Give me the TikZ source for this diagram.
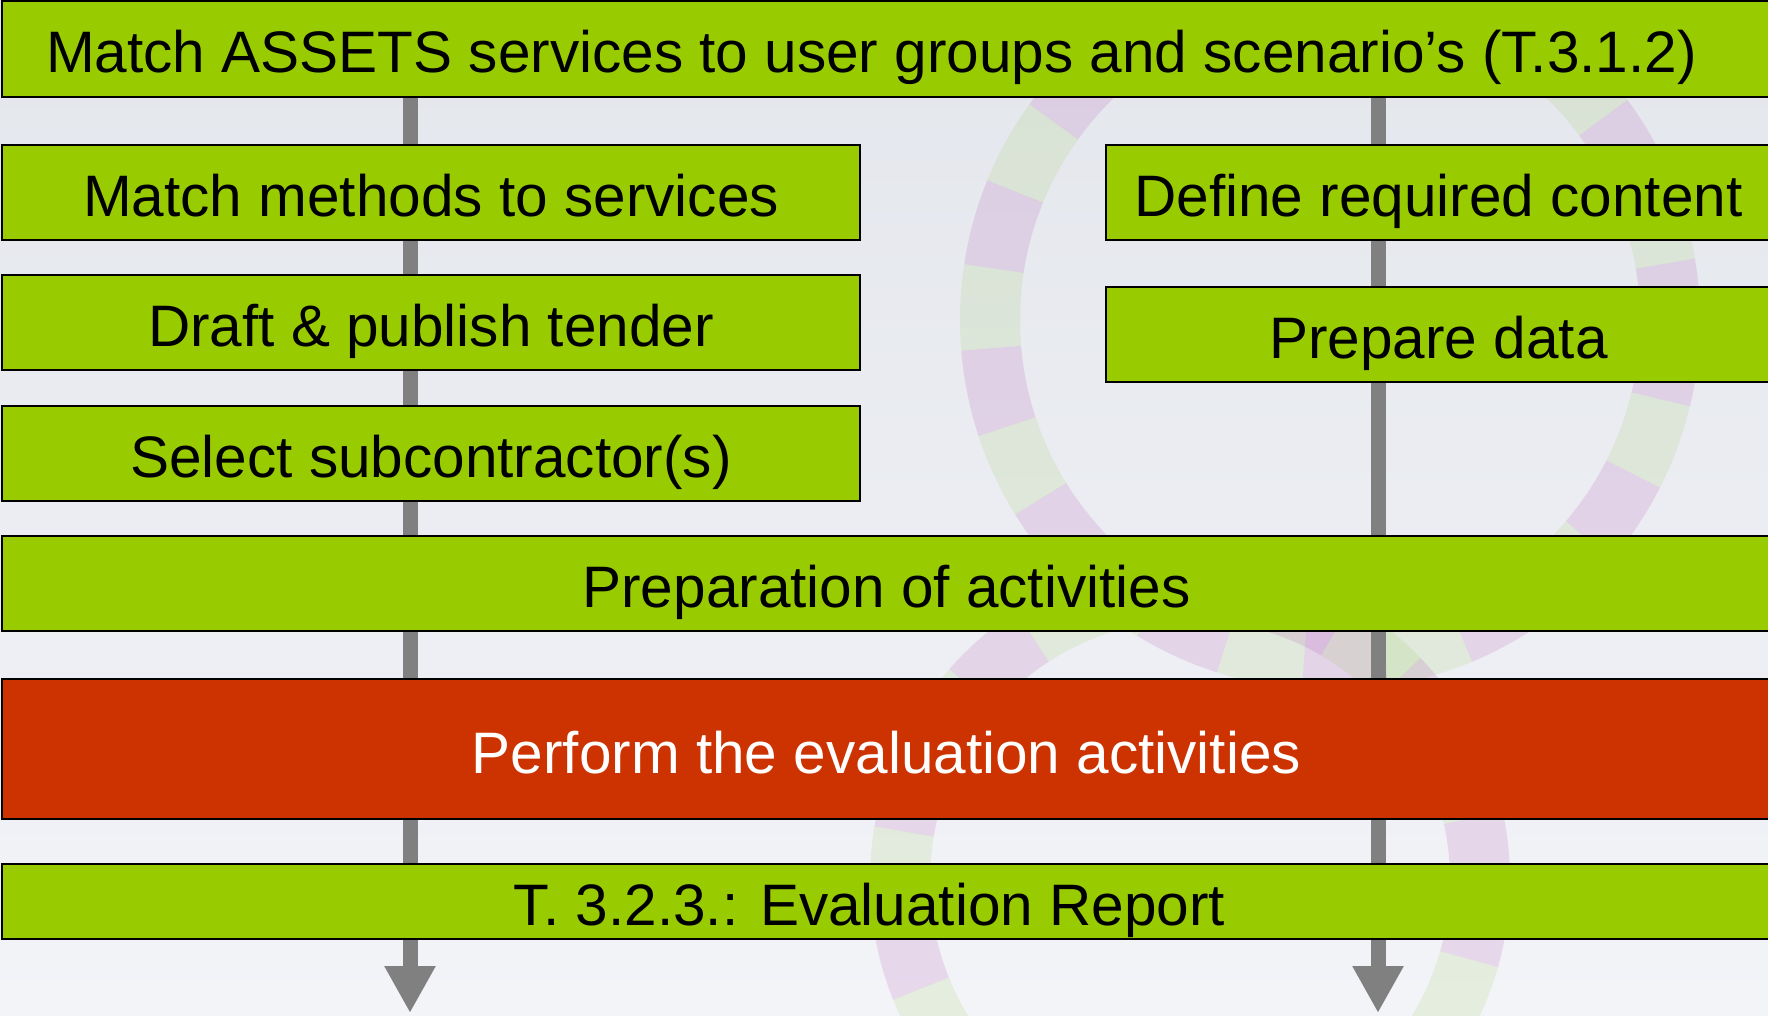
\documentclass[tikz,border=0pt]{standalone}
\usepackage{fontspec}
\setmainfont{Liberation Sans}
\usetikzlibrary{arrows.meta}
\definecolor{boxgreen}{HTML}{99CC00}
\definecolor{boxred}{HTML}{CC3300}
\definecolor{flowgray}{HTML}{808080}
\definecolor{bgtop}{HTML}{E3E6EC}
\definecolor{bgbot}{HTML}{F3F4F8}
\definecolor{swpurple}{HTML}{AA3CAA}
\definecolor{swgreen}{HTML}{96C850}
\begin{document}
\begin{tikzpicture}[x=1pt,y=-1pt,
  box/.style={draw=black,line width=2pt,fill=boxgreen,rectangle,inner sep=0pt,
    anchor=north west,font=\fontsize{58.5}{70}\selectfont},
  flow/.style={draw=flowgray,line width=15pt},
  ribbonp/.style={line width=60pt,draw=swpurple,draw opacity=0.15,dash pattern=on 80pt off 80pt},
  ribbong/.style={line width=60pt,draw=swgreen,draw opacity=0.15,dash pattern=on 80pt off 80pt,dash phase=80pt}]
\useasboundingbox (0,0) rectangle (1768,1016);
\fill[top color=bgtop,bottom color=bgbot] (0,0) rectangle (1768,1016);
% faint background logo
\draw[ribbong] (1330,320) circle[radius=340];
\draw[ribbonp] (1330,320) circle[radius=340];
\draw[ribbong] (1190,880) circle[radius=290];
\draw[ribbonp] (1190,880) circle[radius=290];
% boxes
\node[box,minimum width=1769pt,text height=72pt,text depth=24pt] (top) at (1,0)
  {Match ASSETS services to user groups and scenario’s (T.3.1.2)\hspace*{30pt}};
\node[box,minimum width=858pt,text height=71.5pt,text depth=23.5pt] (mm) at (1,144)
  {Match methods to services};
\node[box,minimum width=858pt,text height=71.5pt,text depth=23.5pt] (draft) at (1,274)
  {Draft \& publish tender};
\node[box,minimum width=858pt,text height=71.5pt,text depth=23.5pt] (sel) at (1,405)
  {Select subcontractor(s)};
\node[box,minimum width=665pt,text height=71.5pt,text depth=23.5pt] (def) at (1105,144)
  {Define required content};
\node[box,minimum width=665pt,text height=71.5pt,text depth=23.5pt] (pdata) at (1105,286)
  {Prepare data};
\node[box,minimum width=1769pt,text height=71.5pt,text depth=23.5pt] (prep) at (1,535)
  {Preparation of activities};
\node[box,fill=boxred,text=white,minimum width=1769pt,text height=94pt,text depth=46pt] (eval) at (1,678)
  {Perform the evaluation activities};
\node[box,minimum width=1769pt,text height=61.5pt,text depth=13.5pt] (rep) at (1,863)
  {T. 3.2.3.: Evaluation Report\hspace*{34pt}};
% connectors
\coordinate (L) at (410,0);
\coordinate (R) at (1378,0);
\coordinate (endL) at (410,1013);
\coordinate (endR) at (1378,1013);
\draw[flow] (top.south -| L) -- (mm.north -| L);
\draw[flow] (mm.south -| L) -- (draft.north -| L);
\draw[flow] (draft.south -| L) -- (sel.north -| L);
\draw[flow] (sel.south -| L) -- (prep.north -| L);
\draw[flow] (prep.south -| L) -- (eval.north -| L);
\draw[flow] (eval.south -| L) -- (rep.north -| L);
\draw[flow,-{Triangle[width=48pt,length=47pt]}] (rep.south -| L) -- (endL);
\draw[flow] (top.south -| R) -- (def.north -| R);
\draw[flow] (def.south -| R) -- (pdata.north -| R);
\draw[flow] (pdata.south -| R) -- (prep.north -| R);
\draw[flow] (prep.south -| R) -- (eval.north -| R);
\draw[flow] (eval.south -| R) -- (rep.north -| R);
\draw[flow,-{Triangle[width=48pt,length=47pt]}] (rep.south -| R) -- (endR);
\end{tikzpicture}
\end{document}
